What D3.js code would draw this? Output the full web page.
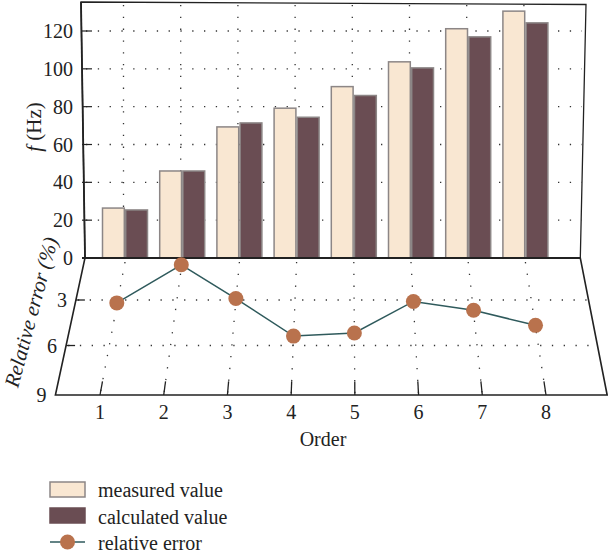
<!DOCTYPE html>
<html>
<head>
<meta charset="utf-8">
<script src="https://cdn.jsdelivr.net/npm/d3@7"></script>
<style>
  body { margin: 0; background: #fff; }
  svg text { font-family: "Liberation Serif", "DejaVu Serif", serif; fill: #222; }
</style>
</head>
<body>
<svg id="chart" width="608" height="557"></svg>
<script>
'use strict';

// data
var orders = [1, 2, 3, 4, 5, 6, 7, 8];
var measured = [26.4, 46.0, 69.3, 79.2, 90.6, 103.7, 121.2, 130.5];
var calculated = [25.4, 46.0, 71.4, 74.4, 85.9, 100.5, 116.9, 124.3];
var relError = [3.2, 0.5, 2.9, 5.4, 5.2, 3.1, 3.7, 4.7];
var fTicks = [0, 20, 40, 60, 80, 100, 120];
var errTicks = [3, 6, 9];
var seriesNames = ['measured value', 'calculated value', 'relative error'];

var colMeasured = '#f9e7d2', colCalc = '#6a4d53', colDot = '#b9724d', colLine = '#2f5a5c';

var svg = d3.select('#chart');

// back wall (bars) scales
var xBack = d3.scaleLinear().domain([1, 8]).range([125, 525.4]);
var xFront = d3.scaleLinear().domain([1, 8]).range([100, 546]);
var yF = d3.scaleLinear().domain([0, 120]).range([258, 31]);
var inner = d3.scaleBand().domain(['m', 'c']).range([-22.5, 22.5]).paddingInner(0.06);

// floor (relative error) with a bit of perspective
var depth = d3.scaleLinear().domain([0, 9]).range([0, 1]);
var yFloor = d3.scaleLinear().domain([0, 1]).range([258, 395]);
var k = 0.1158;
function persp(v) {
  var t = depth(v);
  return (1 - k) * t / (1 - k * t);
}
function proj(i, v) {
  var p = persp(v);
  return [xBack(i) + (xFront(i) - xBack(i)) * p, yFloor(p)];
}
var iL = 0.3, iR = 8.96;

// ---- wall ----
var wall = svg.append('g');
wall.append('path')
  .attr('d', 'M81,2 L586,4.5 L580.3,258 L85,258 Z')
  .attr('fill', '#fff').attr('stroke', '#222').attr('stroke-width', 1.3);

// dotted grid on wall
wall.selectAll('line.hg').data(fTicks.slice(1)).enter().append('line')
  .attr('x1', 86).attr('x2', 582)
  .attr('y1', function(d){ return yF(d); }).attr('y2', function(d){ return yF(d); })
  .attr('stroke', '#333').attr('stroke-width', 1.3).attr('stroke-dasharray', '1.3,10.5');
wall.selectAll('line.vg').data(orders).enter().append('line')
  .attr('x1', function(d){ return xBack(d) - 1.5; }).attr('x2', function(d){ return xBack(d) - 1.5; })
  .attr('y1', 5).attr('y2', 257)
  .attr('stroke', '#333').attr('stroke-width', 1.3).attr('stroke-dasharray', '1.3,10.5');

// bars
wall.selectAll('rect.m').data(orders).enter().append('rect')
  .attr('x', function(d){ return xBack(d) + inner('m'); })
  .attr('width', inner.bandwidth())
  .attr('y', function(d, i){ return yF(measured[i]); })
  .attr('height', function(d, i){ return yF(0) - yF(measured[i]); })
  .attr('fill', colMeasured).attr('stroke', '#8c8686').attr('stroke-width', 1.5);
wall.selectAll('rect.c').data(orders).enter().append('rect')
  .attr('x', function(d){ return xBack(d) + inner('c'); })
  .attr('width', inner.bandwidth())
  .attr('y', function(d, i){ return yF(calculated[i]); })
  .attr('height', function(d, i){ return yF(0) - yF(calculated[i]); })
  .attr('fill', colCalc).attr('stroke', '#8c8686').attr('stroke-width', 1.5);

// wall axis
wall.append('line').attr('x1', 82).attr('x2', 580).attr('y1', 258).attr('y2', 258)
  .attr('stroke', '#222').attr('stroke-width', 1.8);
wall.append('line').attr('x1', 81).attr('x2', 85).attr('y1', 2).attr('y2', 258)
  .attr('stroke', '#222').attr('stroke-width', 1.8);
wall.selectAll('line.tk').data(fTicks.slice(1)).enter().append('line')
  .attr('x1', 82).attr('x2', 92)
  .attr('y1', function(d){ return yF(d); }).attr('y2', function(d){ return yF(d); })
  .attr('stroke', '#222').attr('stroke-width', 1.2);
wall.selectAll('text.tl').data(fTicks).enter().append('text')
  .attr('x', 73).attr('y', function(d){ return yF(d); })
  .attr('dy', '0.35em').attr('text-anchor', 'end')
  .style('font-size', '20px')
  .text(function(d){ return d; });

var fLab = svg.append('text')
  .attr('transform', 'translate(41,127) rotate(-90)')
  .attr('text-anchor', 'middle').style('font-size', '21px');
fLab.append('tspan').style('font-style', 'italic').text('f');
fLab.append('tspan').text(' (Hz)');

// ---- floor ----
var floor = svg.append('g');
var corners = [proj(iL, 0), proj(iR, 0), proj(iR, 9), proj(iL, 9)];
floor.append('path')
  .attr('d', 'M' + corners.join('L') + 'Z')
  .attr('fill', 'none').attr('stroke', '#222').attr('stroke-width', 1.6);

floor.selectAll('line.hg').data([3, 6]).enter().append('line')
  .attr('x1', function(d){ return proj(iL, d)[0] + 2; })
  .attr('x2', function(d){ return proj(iR, d)[0] - 2; })
  .attr('y1', function(d){ return proj(iL, d)[1]; })
  .attr('y2', function(d){ return proj(iR, d)[1]; })
  .attr('stroke', '#333').attr('stroke-width', 1.3).attr('stroke-dasharray', '1.3,10.5');
floor.selectAll('line.vg').data(orders).enter().append('line')
  .attr('x1', function(d){ return proj(d, 0)[0]; })
  .attr('y1', function(d){ return proj(d, 0)[1] + 4; })
  .attr('x2', function(d){ return proj(d, 9)[0]; })
  .attr('y2', function(d){ return proj(d, 9)[1]; })
  .attr('stroke', '#333').attr('stroke-width', 1.3).attr('stroke-dasharray', '1.3,10.5');

// ticks
floor.selectAll('line.bt').data(orders).enter().append('line')
  .attr('x1', function(d){ return proj(d, 9)[0]; })
  .attr('y1', function(d){ return proj(d, 9)[1]; })
  .attr('x2', function(d){ return proj(d, 8.2)[0]; })
  .attr('y2', function(d){ return proj(d, 8.2)[1]; })
  .attr('stroke', '#222').attr('stroke-width', 1.3);
floor.selectAll('line.lt').data([3, 6]).enter().append('line')
  .attr('x1', function(d){ return proj(iL, d)[0]; })
  .attr('x2', function(d){ return proj(iL, d)[0] + 9; })
  .attr('y1', function(d){ return proj(iL, d)[1]; })
  .attr('y2', function(d){ return proj(iL, d)[1]; })
  .attr('stroke', '#222').attr('stroke-width', 1.3);

floor.selectAll('text.el').data(errTicks).enter().append('text')
  .attr('x', function(d){ return proj(iL, d)[0] - 9; })
  .attr('y', function(d){ return proj(iL, d)[1]; })
  .attr('dy', '0.35em').attr('text-anchor', 'end')
  .style('font-size', '20px')
  .text(function(d){ return d; });
floor.selectAll('text.ol').data(orders).enter().append('text')
  .attr('x', function(d){ return proj(d, 9)[0]; })
  .attr('y', 419)
  .attr('text-anchor', 'middle')
  .style('font-size', '20px')
  .text(function(d){ return d; });

svg.append('text').attr('x', 323).attr('y', 446).attr('text-anchor', 'middle')
  .style('font-size', '20px').text('Order');
svg.append('text')
  .attr('transform', 'translate(38,314) rotate(-75)')
  .attr('text-anchor', 'middle').style('font-size', '21px').style('font-style', 'italic')
  .text('Relative error (%)');

// error line + dots
var errLine = d3.line()
  .x(function(d, i){ return proj(orders[i], d)[0]; })
  .y(function(d, i){ return proj(orders[i], d)[1]; });
floor.append('path').datum(relError).attr('d', errLine)
  .attr('fill', 'none').attr('stroke', colLine).attr('stroke-width', 1.5);
floor.selectAll('circle').data(relError).enter().append('circle')
  .attr('cx', function(d, i){ return proj(orders[i], d)[0]; })
  .attr('cy', function(d, i){ return proj(orders[i], d)[1]; })
  .attr('r', 7.5).attr('fill', colDot);

// ---- legend ----
var lg = svg.append('g').attr('transform', 'translate(50,482)');
lg.append('rect').attr('x', 0).attr('y', 0).attr('width', 35).attr('height', 15)
  .attr('fill', colMeasured).attr('stroke', '#8c8686').attr('stroke-width', 1.5);
lg.append('rect').attr('x', 0).attr('y', 26).attr('width', 35).attr('height', 15)
  .attr('fill', colCalc).attr('stroke', colCalc).attr('stroke-width', 1.5);
lg.append('line').attr('x1', 0).attr('x2', 35).attr('y1', 60).attr('y2', 60)
  .attr('stroke', colLine).attr('stroke-width', 1.5);
lg.append('circle').attr('cx', 17.5).attr('cy', 60).attr('r', 7.5).attr('fill', colDot);
lg.selectAll('text').data(seriesNames).enter().append('text')
  .attr('x', 48).attr('y', function(d, i){ return 8 + i * 26.5; })
  .attr('dy', '0.35em').style('font-size', '20px')
  .text(function(d){ return d; });
</script>
</body>
</html>
